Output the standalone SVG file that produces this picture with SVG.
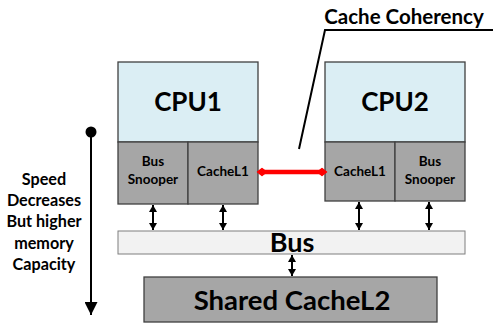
<svg xmlns="http://www.w3.org/2000/svg" width="493" height="325" viewBox="0 0 493 325">
<defs>
<style>
text{font-family:Lato,"Open Sans","Liberation Sans",sans-serif;font-weight:bold;fill:#000;text-anchor:middle}
.box{stroke:#404040;stroke-width:1.3}
.cpu{fill:#DBEEF4}
.gray{fill:#A6A6A6}
.bus{fill:#F2F2F2;stroke:#7f7f7f;stroke-width:1}
.conn{stroke:#000;stroke-width:2;fill:none}
.small{font-size:13.5px;font-weight:bold}
.side{font-size:16.2px}
</style>
<marker id="ah" viewBox="0 0 7 8" refX="7" refY="4" markerUnits="userSpaceOnUse" markerWidth="7" markerHeight="8" orient="auto-start-reverse" preserveAspectRatio="none"><path d="M0,0L7,4L0,8z" fill="#000"/></marker>
<marker id="rd" viewBox="0 0 11 9" refX="5.5" refY="4.5" markerUnits="userSpaceOnUse" markerWidth="11" markerHeight="9" orient="auto" overflow="visible"><path d="M1,4.5L5.5,1L10,4.5L5.5,8z" fill="#f00" stroke="#f00" stroke-width="1.5" stroke-linejoin="round"/></marker>
<marker id="big" viewBox="0 0 13 13" refX="13" refY="6.5" markerUnits="userSpaceOnUse" markerWidth="13" markerHeight="13" orient="auto"><path d="M0,0L13,6.5L0,13z" fill="#000"/></marker>
</defs>
<rect width="493" height="325" fill="#fff"/>
<g id="cpu1">
<rect class="box cpu" x="118" y="62" width="140" height="80"/>
<text x="188" y="111" font-size="26">CPU1</text>
</g>
<g id="snooper1">
<rect class="box gray" x="118" y="142" width="70" height="62"/>
<text class="small" x="153" y="166">Bus</text>
<text class="small" x="153" y="184">Snooper</text>
</g>
<g id="cachel1a">
<rect class="box gray" x="188" y="142" width="70" height="62"/>
<text class="small" x="223" y="176">CacheL1</text>
</g>
<g id="cpu2">
<rect class="box cpu" x="325" y="62" width="140" height="80"/>
<text x="395" y="111" font-size="26">CPU2</text>
</g>
<g id="cachel1b">
<rect class="box gray" x="325" y="142" width="70" height="59"/>
<text class="small" x="360" y="176">CacheL1</text>
</g>
<g id="snooper2">
<rect class="box gray" x="395" y="142" width="70" height="59"/>
<text class="small" x="430" y="166">Bus</text>
<text class="small" x="430" y="184">Snooper</text>
</g>
<g id="bus">
<rect class="bus" x="118" y="231" width="347" height="23"/>
<text x="292" y="252" font-size="27">Bus</text>
</g>
<g id="cachel2">
<rect class="box gray" x="144" y="277" width="293" height="45"/>
<text x="292" y="310" font-size="27.5">Shared CacheL2</text>
</g>
<g id="label-speed">
<text class="side" x="44" y="185">Speed</text>
<text class="side" x="44" y="206">Decreases</text>
<text class="side" x="44" y="227">But higher</text>
<text class="side" x="44" y="249">memory</text>
<text class="side" x="44" y="270">Capacity</text>
</g>
<g id="label-coherency">
<text font-size="20.5" x="404" y="24">Cache Coherency</text>
</g>
<g id="connectors">
<circle cx="91" cy="132" r="5.5" fill="#000"/>
<line class="conn" x1="91" y1="132" x2="91" y2="315" marker-end="url(#big)"/>
<line stroke="#f00" stroke-width="4.5" x1="262" y1="172" x2="322" y2="172" marker-start="url(#rd)" marker-end="url(#rd)"/>
<polyline class="conn" points="493,30 325,30 299,149" stroke-width="1.8"/>
<line class="conn" x1="153" y1="205" x2="153" y2="230" marker-start="url(#ah)" marker-end="url(#ah)"/>
<line class="conn" x1="223" y1="205" x2="223" y2="230" marker-start="url(#ah)" marker-end="url(#ah)"/>
<line class="conn" x1="359" y1="202" x2="359" y2="230" marker-start="url(#ah)" marker-end="url(#ah)"/>
<line class="conn" x1="429" y1="202" x2="429" y2="230" marker-start="url(#ah)" marker-end="url(#ah)"/>
<line class="conn" x1="292" y1="255" x2="292" y2="276" marker-start="url(#ah)" marker-end="url(#ah)"/>
</g>
</svg>
